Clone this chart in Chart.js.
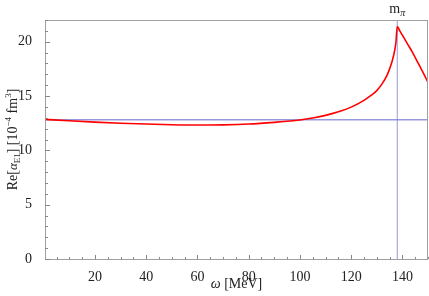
<!DOCTYPE html>
<html>
<head>
<meta charset="utf-8">
<script src="https://cdn.jsdelivr.net/npm/chart.js@4.4.0/dist/chart.umd.min.js"></script>
<style>
html,body{margin:0;padding:0;background:#fff;}
#wrap{width:429px;height:296px;position:relative;}
</style>
</head>
<body>
<div id="wrap"><canvas id="c" width="429" height="296"></canvas></div>
<script>
// Data
const omega = [0.5,10,20,30,40,50,60,70,80,90,100,105,110,115,120,125,128,130,132,134,135,136,137,137.5,138,139,140,142,144,146,148,150];
const reAlpha = [12.85,12.72,12.6,12.5,12.42,12.36,12.33,12.35,12.42,12.58,12.8,12.98,13.22,13.55,13.98,14.6,15.1,15.5,16.1,16.9,17.5,18.2,19.2,20.0,21.4,21.0,20.6,19.8,19.0,18.1,17.2,16.25];
const staticValue = 12.81;
const mPi = 138;
const xTicks = [20,40,60,80,100,120,140];
const yTicks = [0,5,10,15,20];
const xMinor = 5;
const yMinor = 1;

const SERIF = '"Liberation Serif","DejaVu Serif",serif';
const frameColor = '#a0a0a0';
const refColor = 'rgba(125,125,210,0.8)';

const framePlugin = {
  id:'frame',
  afterDatasetsDraw(chart){
    const {ctx, chartArea:a, scales:{x,y}} = chart;
    ctx.save();
    ctx.strokeStyle = frameColor;
    ctx.lineWidth = 1;
    ctx.strokeRect(a.left+0.5, a.top+0.5, a.right-a.left-1, a.bottom-a.top);
    ctx.strokeStyle = '#888';
    ctx.beginPath();
    for(let v=Math.ceil(x.min/xMinor)*xMinor; v<=x.max; v+=xMinor){
      const px = Math.round(x.getPixelForValue(v))+0.5;
      const len = xTicks.includes(v)?4:2;
      ctx.moveTo(px, a.bottom); ctx.lineTo(px, a.bottom-len);
    }
    for(let v=Math.ceil(y.min); v<=y.max; v+=yMinor){
      const py = Math.round(y.getPixelForValue(v))+0.5;
      const len = yTicks.includes(v)?5:3;
      ctx.moveTo(a.left, py); ctx.lineTo(a.left+len, py);
    }
    ctx.stroke();
    ctx.restore();
  },
  afterDraw(chart){
    const {ctx, chartArea:a, scales:{x,y}} = chart;
    ctx.save();
    ctx.fillStyle = '#222';
    ctx.textBaseline = 'alphabetic';
    // x title
    const cx = (a.left+a.right)/2;
    ctx.font = 'italic 14px '+SERIF;
    const w1 = ctx.measureText('ω').width;
    ctx.font = '14px '+SERIF;
    const t2 = ' [MeV]';
    const w2 = ctx.measureText(t2).width;
    let sx = cx - (w1+w2)/2;
    ctx.font = 'italic 14px '+SERIF; ctx.textAlign='left';
    ctx.fillText('ω', sx, 288);
    ctx.font = '14px '+SERIF;
    ctx.fillText(t2, sx+w1, 288);
    // m_pi label
    const mx = x.getPixelForValue(mPi);
    ctx.font = '14px '+SERIF;
    const mw = ctx.measureText('m').width;
    ctx.font = 'italic 10px '+SERIF;
    const pw = ctx.measureText('π').width;
    let ms = mx - (mw+pw)/2;
    ctx.font = '14px '+SERIF;
    ctx.fillText('m', ms, 13);
    ctx.font = 'italic 10px '+SERIF;
    ctx.fillText('π', ms+mw, 16);
    // y title rotated
    const segs = [
      {t:'Re[', f:'14px', dy:0},
      {t:'α', f:'italic 13px', dy:0},
      {t:'E1', f:'9px', dy:3},
      {t:'] [10', f:'14px', dy:0},
      {t:'−4', f:'9px', dy:-6},
      {t:' fm', f:'14px', dy:0},
      {t:'3', f:'9px', dy:-6},
      {t:']', f:'14px', dy:0}
    ];
    let total = 0;
    segs.forEach(s=>{ctx.font = s.f+' '+SERIF; s.w = ctx.measureText(s.t).width; total+=s.w;});
    ctx.translate(17, (a.top+a.bottom)/2);
    ctx.rotate(-Math.PI/2);
    let px = -total/2;
    segs.forEach(s=>{ctx.font = s.f+' '+SERIF; ctx.fillText(s.t, px, s.dy); px+=s.w;});
    ctx.restore();
  }
};

new Chart(document.getElementById('c'), {
  type:'line',
  data:{
    datasets:[
      {data:[{x:0.5,y:staticValue},{x:150,y:staticValue}], borderColor:refColor, borderWidth:1.5, pointRadius:0, tension:0, order:2},
      {data:[{x:mPi,y:0},{x:mPi,y:22}], borderColor:refColor, borderWidth:1, pointRadius:0, tension:0, order:2},
      {data:omega.map((v,i)=>({x:v,y:reAlpha[i]})), borderColor:'#ff0000', borderWidth:1.6, pointRadius:0, cubicInterpolationMode:'monotone', order:1}
    ]
  },
  options:{
    responsive:false, animation:false, events:[],
    layout:{padding:{left:0,right:1,top:20,bottom:0}},
    plugins:{legend:{display:false}, tooltip:{enabled:false}},
    scales:{
      x:{type:'linear', min:0.5, max:150,
        afterBuildTicks(s){ s.ticks = xTicks.map(v=>({value:v})); },
        afterFit(s){ s.height = 37; },
        grid:{display:false}, border:{display:false},
        ticks:{color:'#222', font:{family:SERIF, size:14}, padding:2, maxRotation:0, autoSkip:false}
      },
      y:{type:'linear', min:0, max:22,
        afterBuildTicks(s){ s.ticks = yTicks.map(v=>({value:v})); },
        afterFit(s){ s.width = 45; },
        grid:{display:false}, border:{display:false},
        ticks:{color:'#222', font:{family:SERIF, size:14}, padding:5, autoSkip:false}
      }
    }
  },
  plugins:[framePlugin]
});
</script>
</body>
</html>
